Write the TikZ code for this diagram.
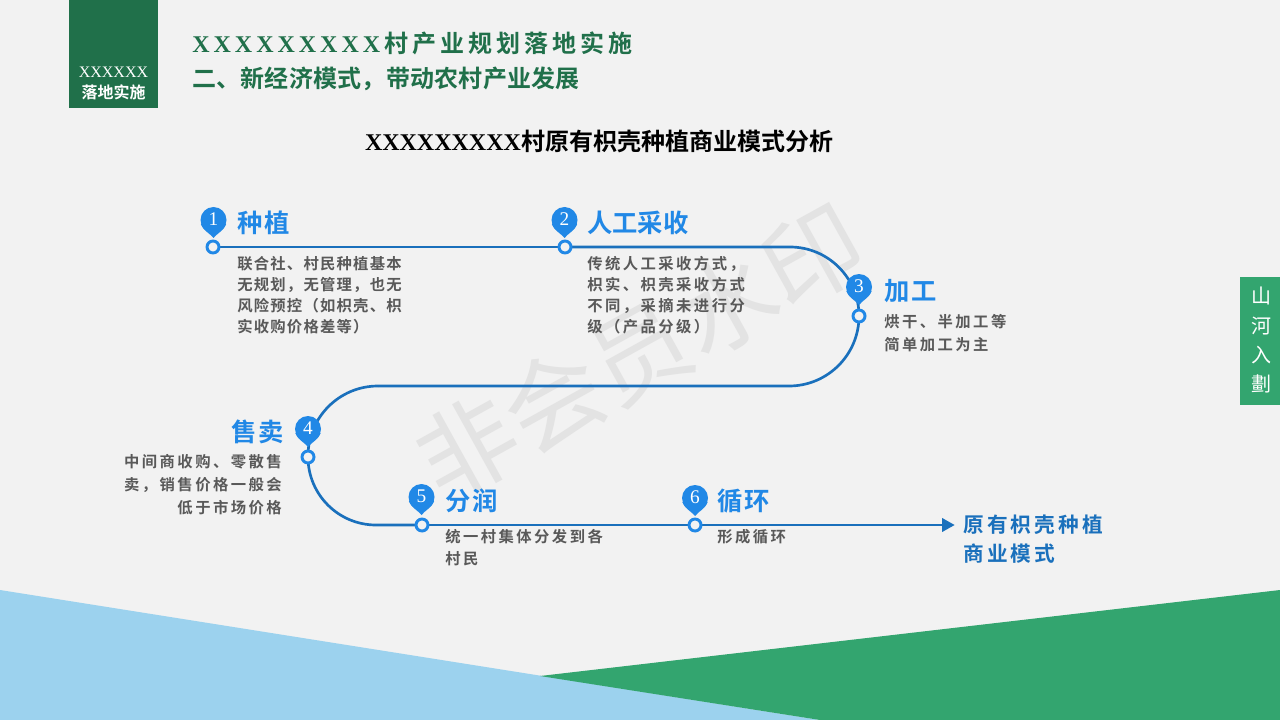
\documentclass[tikz,border=0pt]{standalone}
\usepackage{fontspec}
\setmainfont{Noto Sans CJK SC}[BoldFont={Noto Sans CJK SC Bold}]
\newfontfamily\lat{Liberation Serif}[BoldFont={Liberation Serif Bold}]
\usetikzlibrary{arrows.meta,backgrounds}
\definecolor{bgc}{HTML}{F2F2F2}
\definecolor{dgreen}{HTML}{20704A}
\definecolor{mgreen}{HTML}{33A56F}
\definecolor{lblue}{HTML}{9CD2EE}
\definecolor{pinb}{HTML}{2188E6}
\definecolor{lineb}{HTML}{1A70BC}
\definecolor{txtg}{HTML}{595959}
\newcommand{\fs}[2]{\fontsize{#1}{#2}\selectfont}
\newcommand{\track}[1]{\addfontfeature{LetterSpace=#1}}
\tikzset{
 dot/.style={circle,draw=pinb,fill=bgc,line width=2.2pt,minimum size=9pt,inner sep=0pt},
 pin/.style={circle,fill=pinb,text=white,minimum size=19.5pt,inner sep=0pt,font=\lat\fs{14.5}{14.5}},
 head/.style={text=pinb,font=\bfseries\fs{19}{19}\track{#1},inner sep=0pt},
 head/.default=7,
 body/.style={text=txtg,font=\bfseries\fs{11.5}{#1}\track{16},inner sep=0pt,align=left},
 body/.default=15.8,
 bodytight/.style={text=txtg,font=\bfseries\fs{11.5}{15.8}\track{8},inner sep=0pt,align=left},
 flow/.style={draw=lineb,line width=2pt},
}
\begin{document}
\begin{tikzpicture}[x=0.75pt,y=-0.75pt]
\useasboundingbox (0,0) rectangle (1280,720);
\node[dot] (c1) at (213,247) {};
\node[dot] (c2) at (565,247) {};
\node[dot] (c3) at (859,316) {};
\node[dot] (c4) at (308,457) {};
\node[dot] (c5) at (422,525) {};
\node[dot] (c6) at (695,525) {};
\node[inner sep=0pt,minimum size=0pt] (end) at (955,525) {};
\coordinate (a1) at (790,247);
\coordinate (a3) at (378,386);
\begin{pgfonlayer}{background}
\fill[bgc] (0,0) rectangle (1280,720);
\fill[lblue] (0,590) -- (820,720) -- (0,720) -- cycle;
\fill[mgreen] (1280,590) -- (1280,720) -- (820,720) -- (540,676) -- cycle;
\node[rotate=29,text=black!11,font=\fs{74}{74},inner sep=0pt] (wm) at (640,352) {非会员水印};
\draw[flow] (c1.center) -- (c2.center);
\draw[flow] (c2.center) -- (a1) arc[start angle=90,end angle=0,radius=51.75pt] -- (c3.center);
\draw[flow] (c3.center) arc[start angle=0,end angle=-90,radius=52.5pt] -- (a3);
\draw[flow] (a3) arc[start angle=90,end angle=180,radius=52.5pt] -- (c4.center);
\draw[flow] (c4.center) arc[start angle=180,end angle=270,radius=51pt] -- (c5.center);
\draw[flow] (c5.center) -- (c6.center);
\draw[flow,-{Triangle[length=9.5pt,width=10pt]}] (c6.center) -- (end);
\end{pgfonlayer}
\fill[dgreen] (69,0) rectangle (158,108);
\node[text=white,font=\lat\fs{12}{12},inner sep=0pt] (t1) at (113.5,72) {XXXXXX};
\node[text=white,font=\bfseries\fs{12}{12},inner sep=0pt] (t2) at (113.5,92) {落地实施};
\node[anchor=west,text=dgreen,font=\bfseries\fs{18}{18},inner sep=0pt] (h1) at (192,43) {{\lat X\,X\,X\,X\,X\,X\,X\,X\,X}\,村\,产\,业\,规\,划\,落\,地\,实\,施};
\node[anchor=west,text=dgreen,font=\bfseries\fs{18}{18}\track{1},inner sep=0pt] (h2) at (192,79) {二、新经济模式，带动农村产业发展};
\node[text=black,font=\bfseries\fs{18}{18},inner sep=0pt] (h3) at (599,141) {{\lat XXXXXXXXX}村原有枳壳种植商业模式分析};
\foreach \n/\x/\y/\l in {p1/213.5/220/1,p2/564.5/220/2,p3/859/287/3,p4/308/429/4,p5/421.5/497/5,p6/695/498/6}{
 \fill[pinb] (\x-12.7,\y+4) .. controls (\x-10,\y+11) and (\x-4,\y+13) .. (\x,\y+18) .. controls (\x+4,\y+13) and (\x+10,\y+11) .. (\x+12.7,\y+4) -- cycle;
 \node[pin] (\n) at (\x,\y) {\raisebox{1.5pt}{\l}};
}
\node[head,anchor=west] (n1) at (237,223) {种植};
\node[head=0,anchor=west] (n2) at (587,223) {人工采收};
\node[head,anchor=west] (n3) at (884,291) {加工};
\node[head,anchor=east] (n4) at (284,432) {售卖};
\node[head,anchor=west] (n5) at (445,501) {分润};
\node[head,anchor=west] (n6) at (717,501) {循环};
\node[bodytight,anchor=north west] (b1) at (237,256) {联合社、村民种植基本\\无规划，无管理，也无\\风险预控（如枳壳、枳\\实收购价格差等）};
\node[body,anchor=north west] (b2) at (587,256) {传统人工采收方式，\\枳实、枳壳采收方式\\不同，采摘未进行分\\级（产品分级）};
\node[body=17.25,anchor=north west] (b3) at (884,314) {烘干、半加工等\\简单加工为主};
\node[body=17.25,anchor=north east,align=right] (b4) at (282,454) {中间商收购、零散售\\卖，销售价格一般会\\低于市场价格};
\node[body=16.5,anchor=north west] (b5) at (445,529) {统一村集体分发到各\\村民};
\node[body,anchor=north west] (b6) at (717,529) {形成循环};
\node[anchor=north west,text=lineb,font=\bfseries\fs{15.5}{21.75}\track{15},inner sep=0pt,align=left] (res) at (963,515) {原有枳壳种植\\商业模式};
\fill[mgreen] (1240,277) rectangle (1280,405);
\foreach \c/\y in {山/296,河/326,入/355,劃/384}{
 \node[text=white,font=\fs{15}{15},inner sep=0pt] at (1261,\y) {\c};
}
\end{tikzpicture}
\end{document}
